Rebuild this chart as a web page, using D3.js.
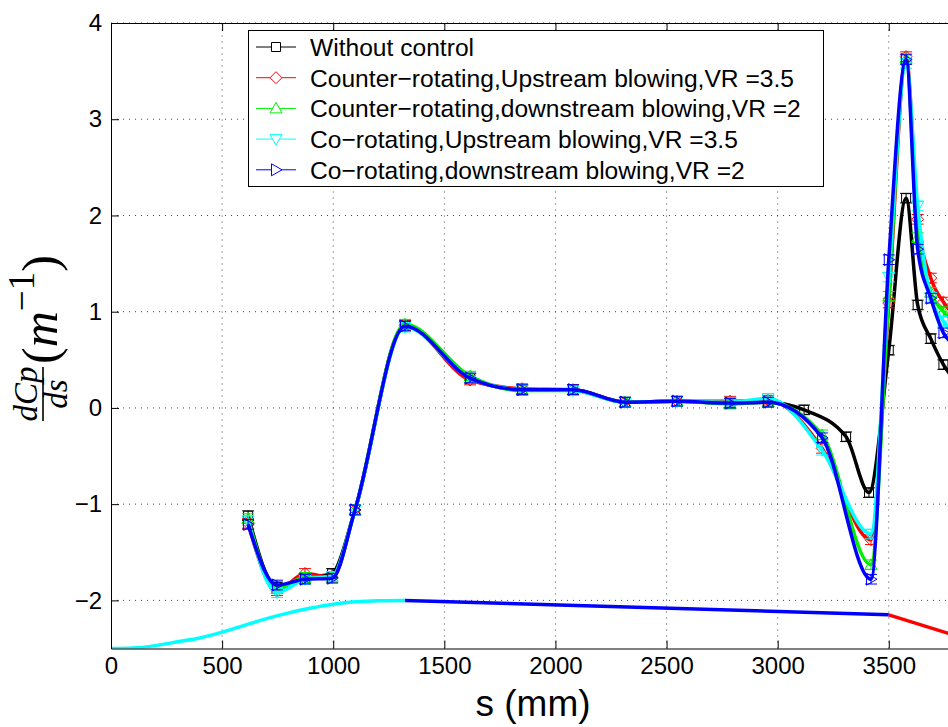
<!DOCTYPE html>
<html><head><meta charset="utf-8">
<script src="https://cdn.jsdelivr.net/npm/d3@7"></script>
<style>body{margin:0;background:#fff}svg{display:block}</style>
</head><body>
<script>
// ---------- data ----------
const seriesNames = [
  "Without control",
  "Counter\u2212rotating,Upstream blowing,VR =3.5",
  "Counter\u2212rotating,downstream blowing,VR =2",
  "Co\u2212rotating,Upstream blowing,VR =3.5",
  "Co\u2212rotating,downstream blowing,VR =2"
];
const sBlack = [617,747,873,995,1098,1323,1616,1850,2079,2313,2547,2786,2957,3119,3308,3411,3500,3578,3630,3689,3746,3800];
const vBlack = [-1.12,-1.86,-1.77,-1.72,-1.06,0.86,0.31,0.19,0.19,0.06,0.07,0.05,0.06,-0.02,-0.30,-0.88,0.60,2.18,1.07,0.72,0.45,0.28];
const sCtrl = [617,747,873,995,1098,1323,1616,1850,2079,2313,2547,2786,2957,3200,3420,3500,3578,3630,3689,3746,3800];
const vRed   = [-1.20,-1.90,-1.72,-1.76,-1.06,0.86,0.29,0.20,0.19,0.06,0.07,0.07,0.08,-0.42,-1.37,1.09,3.65,1.96,1.35,1.10,0.95];
const vGreen = [-1.15,-1.88,-1.76,-1.76,-1.06,0.87,0.33,0.18,0.18,0.06,0.07,0.04,0.06,-0.28,-1.63,1.16,3.63,1.77,1.20,1.00,0.88];
const vCyan  = [-1.17,-1.92,-1.78,-1.75,-1.06,0.84,0.31,0.19,0.18,0.06,0.07,0.06,0.10,-0.44,-1.31,1.36,3.58,2.10,1.15,0.90,0.75];
const vBlue  = [-1.21,-1.84,-1.78,-1.77,-1.06,0.85,0.31,0.19,0.19,0.06,0.07,0.05,0.06,-0.31,-1.78,1.54,3.62,1.65,1.14,0.78,0.65];
const errHalf = 0.05;
// geometry outline
const geoCyanS = [0,100,200,300,400,500,600,700,800,900,1000,1100,1200,1323];
const geoCyanV = [-2.5,-2.495,-2.47,-2.43,-2.39,-2.33,-2.26,-2.19,-2.13,-2.08,-2.04,-2.015,-2.003,-2.0];
const geoBlueS = [1323,3500];
const geoBlueV = [-2.0,-2.15];
const geoRedS = [3500,3765,4000];
const geoRedV = [-2.15,-2.34,-2.51];
const xTicks = [0,500,1000,1500,2000,2500,3000,3500];
const yTicks = [-2,-1,0,1,2,3,4];

// ---------- setup ----------
const W = 948, H = 727;
const svg = d3.select("body").append("svg").attr("width", W).attr("height", H);
const x = d3.scaleLinear().domain([0, 4000]).range([111, 111 + 4000 * 0.22222]);
const y = d3.scaleLinear().domain([-2.5, 4]).range([648.5, 23]);
const X0 = x(0), X1 = x(4000), Y0 = y(-2.5), Y1 = y(4);

svg.append("defs").append("clipPath").attr("id", "clip")
  .append("rect").attr("x", X0).attr("y", Y1).attr("width", X1 - X0).attr("height", Y0 - Y1);

// grid
const grid = svg.append("g");
xTicks.slice(1).forEach(t => grid.append("line")
  .attr("x1", x(t)).attr("x2", x(t)).attr("y1", Y0).attr("y2", Y1)
  .attr("stroke", "#444").attr("stroke-width", 1).attr("stroke-dasharray", "1,5"));
yTicks.forEach(t => grid.append("line")
  .attr("x1", X0).attr("x2", X1).attr("y1", y(t)).attr("y2", y(t))
  .attr("stroke", "#444").attr("stroke-width", 1).attr("stroke-dasharray", "1,5"));

const plot = svg.append("g").attr("clip-path", "url(#clip)");
const line = d3.line().x(d => x(d[0])).y(d => y(d[1])).curve(d3.curveMonotoneX);
const zip = (a, b) => a.map((v, i) => [v, b[i]]);

// geometry outline
[[geoCyanS, geoCyanV, "#00ffff"], [geoBlueS, geoBlueV, "#0000ff"], [geoRedS, geoRedV, "#ff0000"]].forEach(([s, v, c]) => {
  plot.append("path").attr("d", line(zip(s, v))).attr("fill", "none").attr("stroke", c).attr("stroke-width", 3.5);
});

// marker paths
function marker(kind, r) {
  switch (kind) {
    case "square": return `M${-r},${-r}H${r}V${r}H${-r}Z`;
    case "diamond": return `M0,${-r}L${r},0L0,${r}L${-r},0Z`;
    case "up": return `M0,${-r}L${r},${r * 0.75}L${-r},${r * 0.75}Z`;
    case "down": return `M0,${r}L${r},${-r * 0.75}L${-r},${-r * 0.75}Z`;
    case "right": return `M${r},0L${-r * 0.75},${r}L${-r * 0.75},${-r}Z`;
  }
}
const series = [
  {s: sBlack, v: vBlack, c: "#000000", m: "square", r: 4.5},
  {s: sCtrl, v: vRed, c: "#ff0000", m: "diamond", r: 6},
  {s: sCtrl, v: vGreen, c: "#00ee00", m: "up", r: 6},
  {s: sCtrl, v: vCyan, c: "#00ffff", m: "down", r: 6},
  {s: sCtrl, v: vBlue, c: "#0000ff", m: "right", r: 6}
];
series.forEach(se => {
  const pts = zip(se.s, se.v);
  plot.append("path").attr("d", line(pts)).attr("fill", "none")
    .attr("stroke", se.c).attr("stroke-width", 3.5);
  const g = plot.append("g");
  pts.forEach(p => {
    const px = x(p[0]), pt = y(p[1] + errHalf), pb = y(p[1] - errHalf);
    g.append("path").attr("d", `M${px},${pt}V${pb}M${px - 6},${pt}H${px + 6}M${px - 6},${pb}H${px + 6}`)
      .attr("stroke", se.c).attr("stroke-width", 1).attr("fill", "none");
    g.append("path").attr("d", marker(se.m, se.r)).attr("transform", `translate(${px},${y(p[1])})`)
      .attr("fill", "none").attr("stroke", se.c).attr("stroke-width", 1);
  });
});

// axes
const font = "'Liberation Sans', Arial, sans-serif";
const fmt = d => d < 0 ? "\u2212" + (-d) : String(d);
const ax = svg.append("g").attr("transform", `translate(0,${Y0})`)
  .call(d3.axisBottom(x).tickValues(xTicks).tickFormat(fmt).tickSizeInner(-8).tickSizeOuter(0).tickPadding(8));
const ay = svg.append("g").attr("transform", `translate(${X0},0)`)
  .call(d3.axisLeft(y).tickValues(yTicks).tickFormat(fmt).tickSizeInner(-8).tickSizeOuter(0).tickPadding(9));
const at = svg.append("g").attr("transform", `translate(0,${Y1})`)
  .call(d3.axisTop(x).tickValues(xTicks).tickSizeInner(-8).tickSizeOuter(0).tickFormat(""));
[ax, ay, at].forEach(a => {
  a.selectAll("text").attr("font-family", font).attr("font-size", 24).attr("fill", "#000");
  a.selectAll("line,path").attr("stroke", "#000");
});

// x label
svg.append("text").attr("x", 533).attr("y", 716).attr("text-anchor", "middle")
  .attr("font-family", font).attr("font-size", 37).text("s (mm)");

// y label
const yl = svg.append("g").attr("transform", "translate(43,330) rotate(-90)");
const serif = "'Liberation Serif', 'DejaVu Serif', serif";
yl.append("line").attr("x1", -91).attr("x2", -37).attr("y1", 0).attr("y2", 0).attr("stroke", "#000").attr("stroke-width", 1.6);
yl.append("text").attr("x", -64).attr("y", -6).attr("text-anchor", "middle").attr("font-family", serif)
  .attr("font-style", "italic").attr("font-size", 33).text("dCp");
yl.append("text").attr("x", -64).attr("y", 24).attr("text-anchor", "middle").attr("font-family", serif)
  .attr("font-style", "italic").attr("font-size", 33).text("ds");
const t2 = yl.append("text").attr("x", -34).attr("y", 14).attr("font-family", serif).attr("font-size", 50);
t2.append("tspan").text("(");
t2.append("tspan").attr("font-style", "italic").text("m");
t2.append("tspan").attr("font-size", 37).attr("dy", -23).text("\u22121");
t2.append("tspan").attr("dy", 23).text(")");

// legend
const lg = svg.append("g");
lg.append("rect").attr("x", 248.5).attr("y", 30.5).attr("width", 575).attr("height", 156)
  .attr("fill", "#fff").attr("stroke", "#000").attr("stroke-width", 1);
series.forEach((se, i) => {
  const cy = 47 + i * 30.7;
  lg.append("line").attr("x1", 256).attr("x2", 296).attr("y1", cy).attr("y2", cy).attr("stroke", se.c).attr("stroke-width", 1);
  lg.append("path").attr("d", marker(se.m, se.m === "square" ? 4.5 : 6)).attr("transform", `translate(276,${cy})`)
    .attr("fill", "#fff").attr("stroke", se.c).attr("stroke-width", 1);
  lg.append("text").attr("x", 310).attr("y", cy).attr("dy", "0.36em").attr("font-family", font)
    .attr("font-size", 24.6).text(seriesNames[i]);
});
</script>
</body></html>
